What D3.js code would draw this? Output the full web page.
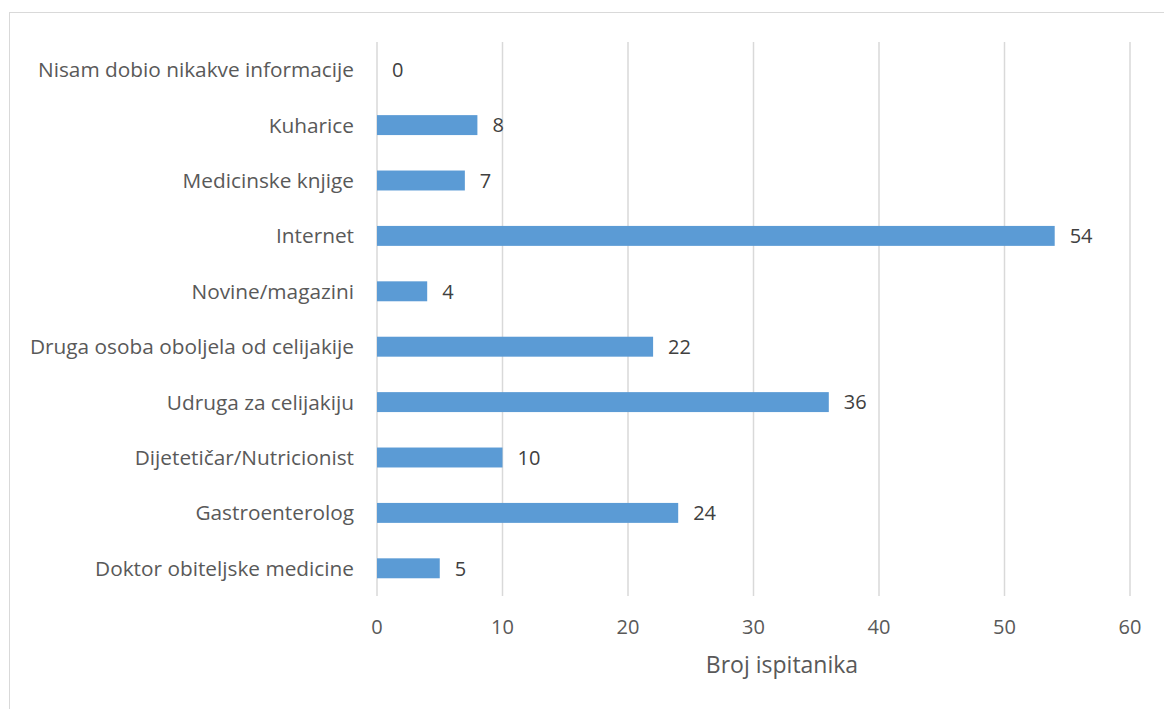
<!DOCTYPE html>
<html><head><meta charset="utf-8">
<script src="https://cdn.jsdelivr.net/npm/d3@7"></script>
<style>body{margin:0;background:#fff;}svg{display:block;}</style>
</head><body>
<svg id="c" width="1164" height="709"></svg>
<script>
const categories = ["Nisam dobio nikakve informacije","Kuharice","Medicinske knjige","Internet","Novine/magazini","Druga osoba oboljela od celijakije","Udruga za celijakiju","Dijetetičar/Nutricionist","Gastroenterolog","Doktor obiteljske medicine"];
const values = [0,8,7,54,4,22,36,10,24,5];
const xTicks = [0,10,20,30,40,50,60];
const axisTitle = "Broj ispitanika";

(function(){
const FONT = "'Open Sans', sans-serif";
const TXT = "#595959";
const svg = d3.select("#c");
svg.append("rect").attr("x",9.5).attr("y",12.5).attr("width",1164).attr("height",709)
  .attr("fill","#fff").attr("stroke","#d9d9d9").attr("stroke-width",1);

const pL=377, pR=1130, pT=42, pB=596;
const x = d3.scaleLinear().domain([0,60]).range([pL,pR]);
const y = d3.scaleBand().domain(categories).range([pT,pB]).paddingInner(0.64).paddingOuter(0.32);

const g = svg.append("g");
g.selectAll("line.grid").data(xTicks).join("line")
  .attr("x1",d=>x(d)).attr("x2",d=>x(d)).attr("y1",pT).attr("y2",pB)
  .attr("stroke","#d9d9d9").attr("stroke-width",1.5);

g.selectAll("rect.bar").data(categories).join("rect")
  .attr("x",x(0)).attr("y",d=>y(d)).attr("height",y.bandwidth())
  .attr("width",(d,i)=>x(values[i])-x(0)).attr("fill","#5b9bd5");

g.selectAll("text.val").data(categories).join("text")
  .attr("x",(d,i)=>x(values[i])+15).attr("y",d=>y(d)+y.bandwidth()/2)
  .attr("dy","0.36em").attr("font-family",FONT).attr("font-size",20).attr("fill","#404040")
  .text((d,i)=>values[i]);

g.selectAll("text.cat").data(categories).join("text")
  .attr("x",pL-23).attr("y",d=>y(d)+y.bandwidth()/2).attr("dy","0.36em")
  .attr("text-anchor","end").attr("font-family",FONT).attr("font-size",20.8).attr("fill",TXT)
  .text(d=>d);

g.selectAll("text.tick").data(xTicks).join("text")
  .attr("x",d=>x(d)).attr("y",634).attr("text-anchor","middle")
  .attr("font-family",FONT).attr("font-size",20).attr("fill",TXT).text(d=>d);

g.append("text").attr("x",782).attr("y",673).attr("text-anchor","middle")
  .attr("font-family",FONT).attr("font-size",23).attr("fill",TXT).text(axisTitle);
})();
</script>
</body></html>
